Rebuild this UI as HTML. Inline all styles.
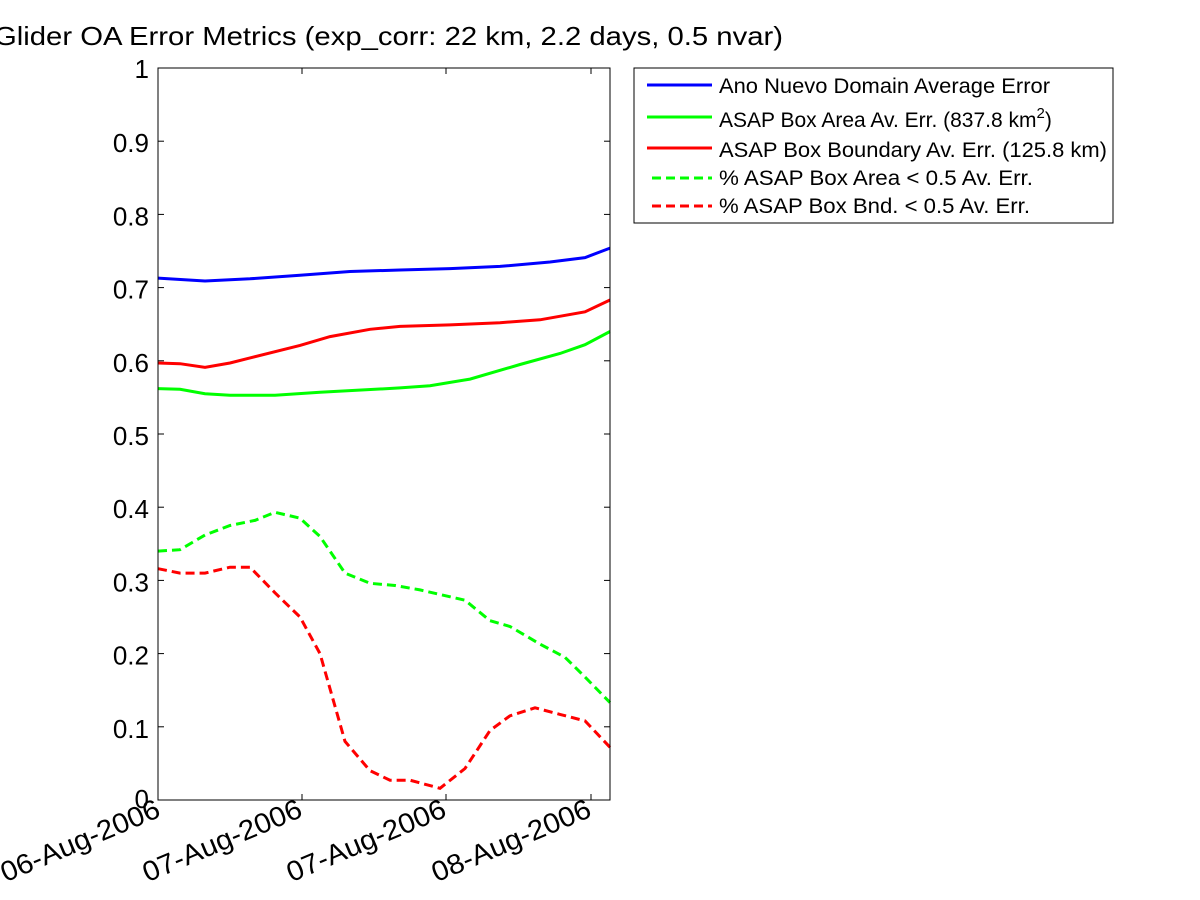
<!DOCTYPE html>
<html><head><meta charset="utf-8"><style>
html,body{margin:0;padding:0;background:#fff;width:1200px;height:900px;overflow:hidden}
svg{display:block;font-family:"Liberation Sans",Arial,sans-serif}
</style></head><body>
<svg id="s" width="1200" height="900" xmlns="http://www.w3.org/2000/svg">
<rect width="1200" height="900" fill="#fff"/>
<text x="-6" y="45" font-size="26" textLength="789" lengthAdjust="spacingAndGlyphs">Glider OA Error Metrics (exp_corr: 22 km, 2.2 days, 0.5 nvar)</text>
<g id="plot"></g>
<rect x="158" y="68" width="452" height="732" fill="none" stroke="#000" stroke-width="1"/>
<g font-size="28">
<text transform="translate(162,816) rotate(-23)" text-anchor="end" textLength="170" lengthAdjust="spacingAndGlyphs">06-Aug-2006</text>
<text transform="translate(304,816) rotate(-23)" text-anchor="end" textLength="170" lengthAdjust="spacingAndGlyphs">07-Aug-2006</text>
<text transform="translate(448,816) rotate(-23)" text-anchor="end" textLength="170" lengthAdjust="spacingAndGlyphs">07-Aug-2006</text>
<text transform="translate(593,816) rotate(-23)" text-anchor="end" textLength="170" lengthAdjust="spacingAndGlyphs">08-Aug-2006</text>
</g>
<rect x="634" y="68" width="479" height="155" fill="#fff" stroke="#000"/>
<g stroke-width="3">
<line x1="647" y1="85" x2="712" y2="85" stroke="#0000ff"/>
<line x1="647" y1="117" x2="712" y2="117" stroke="#00ff00"/>
<line x1="647" y1="148" x2="712" y2="148" stroke="#ff0000"/>
<line x1="652" y1="178" x2="712" y2="178" stroke="#00ff00" stroke-dasharray="9,5"/>
<line x1="652" y1="206" x2="712" y2="206" stroke="#ff0000" stroke-dasharray="9,5"/>
</g>
<g font-size="21">
<text x="719" y="93" textLength="331" lengthAdjust="spacingAndGlyphs">Ano Nuevo Domain Average Error</text>
<text x="719" y="127">ASAP Box Area Av. Err. (837.8 km<tspan dy="-9" font-size="15">2</tspan><tspan dy="9">)</tspan></text>
<text x="719" y="157" textLength="388" lengthAdjust="spacingAndGlyphs">ASAP Box Boundary Av. Err. (125.8 km)</text>
<text x="719" y="185" textLength="314" lengthAdjust="spacingAndGlyphs">% ASAP Box Area &lt; 0.5 Av. Err.</text>
<text x="719" y="213" textLength="311" lengthAdjust="spacingAndGlyphs">% ASAP Box Bnd. &lt; 0.5 Av. Err.</text>
</g>
</svg>
<script>
var g=document.getElementById('plot'),h='';
function Y(v){return 800-v*732;}
for(var i=0;i<=10;i++){var y=Y(i/10);
h+='<line x1="158" y1="'+y+'" x2="164" y2="'+y+'" stroke="#000"/><line x1="604" y1="'+y+'" x2="610" y2="'+y+'" stroke="#000"/>';
h+='<text x="149" y="'+(y+(i==10?10:i==0?8:11))+'" font-size="26" text-anchor="end">'+(i==0?'0':i==10?'1':'0.'+i)+'</text>';}
[302,446,591].forEach(function(x){h+='<line x1="'+x+'" y1="800" x2="'+x+'" y2="794" stroke="#000"/><line x1="'+x+'" y1="68" x2="'+x+'" y2="74" stroke="#000"/>';});
var S=[
["#0000ff","",[[158,.713],[205,.709],[250,.712],[300,.717],[350,.722],[400,.724],[450,.726],[500,.729],[550,.735],[585,.741],[610,.754]]],
["#ff0000","",[[158,.597],[180,.596],[205,.591],[230,.597],[250,.604],[300,.621],[330,.633],[370,.643],[400,.647],[450,.649],[500,.652],[540,.656],[585,.667],[610,.683]]],
["#00ff00","",[[158,.562],[180,.561],[205,.555],[230,.553],[275,.553],[320,.557],[400,.563],[430,.566],[470,.575],[520,.595],[560,.61],[585,.622],[610,.64]]],
["#00ff00","9,5",[[158,.34],[180,.342],[205,.362],[230,.375],[255,.382],[275,.393],[300,.385],[320,.36],[345,.31],[370,.296],[395,.293],[420,.287],[465,.273],[490,.245],[510,.237],[540,.213],[565,.195],[585,.168],[610,.133]]],
["#ff0000","9,5",[[158,.316],[180,.31],[205,.31],[230,.318],[250,.318],[275,.283],[300,.25],[320,.2],[345,.08],[370,.04],[390,.027],[410,.027],[440,.016],[465,.043],[490,.095],[510,.115],[535,.126],[560,.117],[585,.108],[610,.072]]]];
S.forEach(function(s){var p=s[2].map(function(q){return q[0]+','+Y(q[1]).toFixed(1);}).join(' ');
h+='<polyline points="'+p+'" fill="none" stroke="'+s[0]+'" stroke-width="3"'+(s[1]?' stroke-dasharray="'+s[1]+'"':'')+'/>';});
g.innerHTML=h;
</script>
</body></html>
